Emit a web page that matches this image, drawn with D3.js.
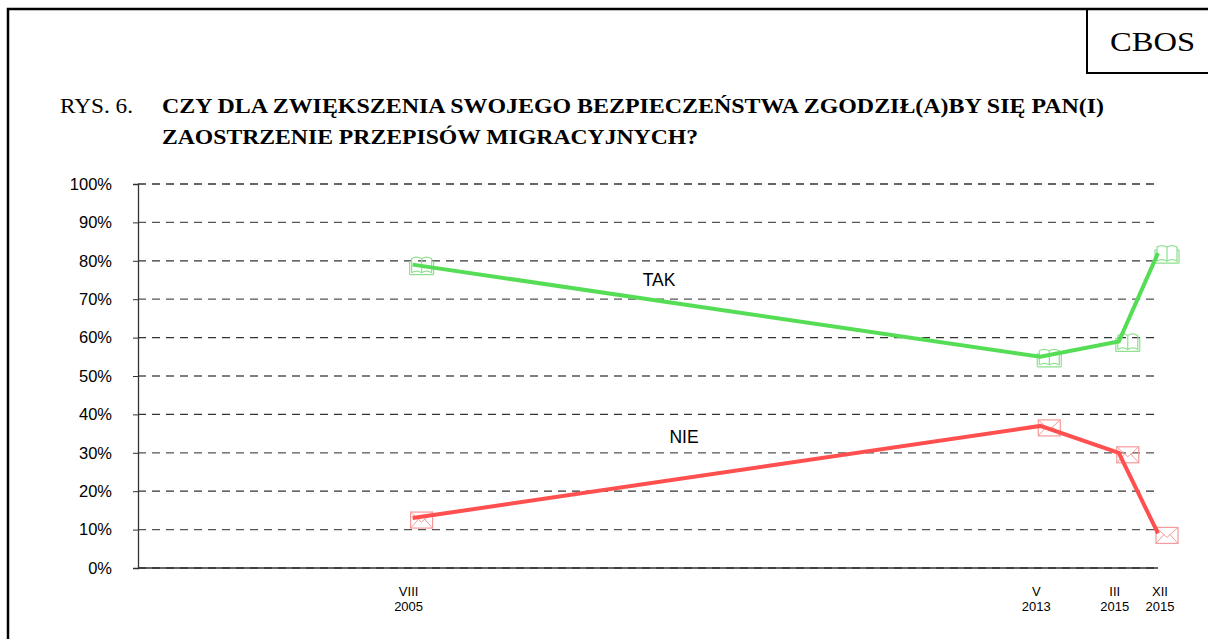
<html>
<head><meta charset="utf-8"></head>
<script src='https://d3js.org/d3.v7.min.js'></script>
<style>
body {margin:0; background:#fff;}
</style>
<body>
<svg width=1208 height=639></svg>
<script>
// survey waves (position on the original category axis) and their labels
var waveIndex = [7, 23, 25, 26];
var waveMonth = ["VIII", "V", "III", "XII"];
var waveYear = ["2005", "2013", "2015", "2015"];
var takValues = [79, 55, 59, 82];
var nieValues = [13, 37, 30, 9];
var yTicks = [0, 10, 20, 30, 40, 50, 60, 70, 80, 90, 100];

var SANS = "'Liberation Sans', Arial, sans-serif";
var SERIF = "'Liberation Serif', 'Times New Roman', Tinos, serif";
var svg = d3.select("svg");

// frame
svg.append("path").attr("d", "M8,639V9H1208").attr("fill", "none").attr("stroke", "#000").attr("stroke-width", 2.5);
svg.append("path").attr("d", "M1087,9V73H1208").attr("fill", "none").attr("stroke", "#000").attr("stroke-width", 2);
svg.append("text").attr("x", 1110).attr("y", 51)
  .attr("textLength", 85).attr("lengthAdjust", "spacingAndGlyphs")
  .style("font-family", SERIF).style("font-size", "27px").text("CBOS");

// title
svg.append("text").attr("x", 60).attr("y", 113).style("font-family", SERIF).style("font-size", "20px")
  .attr("textLength", 73).attr("lengthAdjust", "spacingAndGlyphs").text("RYS. 6.");
svg.append("text").attr("x", 162).attr("y", 113).style("font-family", SERIF).style("font-size", "20.5px").style("font-weight", "bold")
  .attr("textLength", 942).attr("lengthAdjust", "spacingAndGlyphs")
  .text("CZY DLA ZWIĘKSZENIA SWOJEGO BEZPIECZEŃSTWA ZGODZIŁ(A)BY SIĘ PAN(I)");
svg.append("text").attr("x", 162).attr("y", 144).style("font-family", SERIF).style("font-size", "20.5px").style("font-weight", "bold")
  .attr("textLength", 536).attr("lengthAdjust", "spacingAndGlyphs")
  .text("ZAOSTRZENIE PRZEPISÓW MIGRACYJNYCH?");

var x = d3.scaleLinear().domain([0, 26]).range([138, 1158]);
var y = d3.scaleLinear().domain([0, 100]).range([568, 184]);

// gridlines
svg.append("g").selectAll("line").data(yTicks).enter().append("line")
  .attr("x1", x(0)).attr("x2", x(26)).attr("y1", d => y(d)).attr("y2", d => y(d))
  .attr("stroke", d => d % 20 === 0 ? "#333" : "#555").attr("stroke-width", 1.3).attr("stroke-dasharray", "8,6");

// y axis
var yAxis = svg.append("g").attr("transform", "translate(138,0)")
  .call(d3.axisLeft(y).tickValues(yTicks).tickSize(5).tickPadding(21).tickFormat(d => d + "%"));
yAxis.select(".domain").attr("stroke", "#333").attr("stroke-width", 1.3);
yAxis.selectAll(".tick line").attr("stroke", "#333");
yAxis.selectAll("text").style("font-size", "16.5px").style("font-family", SANS).attr("fill", "#000");

// x axis baseline
svg.append("line").attr("x1", x(0)).attr("x2", x(26)).attr("y1", y(0)).attr("y2", y(0)).attr("stroke", "#333").attr("stroke-width", 1.3);

// x labels
var xl = svg.append("g").selectAll("text").data(waveIndex).enter().append("text")
  .attr("text-anchor", "middle").style("font-family", SANS).style("font-size", "13px");
xl.append("tspan").attr("x", (d, i) => x(d) - 4 + (i === 3 ? 6 : 0)).attr("y", 596).text((d, i) => waveMonth[i]);
xl.append("tspan").attr("x", (d, i) => x(d) - 4 + (i === 3 ? 6 : 0)).attr("y", 611).text((d, i) => waveYear[i]);

var line = d3.line().x(d => x(d[0])).y(d => y(d[1]));
var takPts = waveIndex.map((w, i) => [w, takValues[i]]);
var niePts = waveIndex.map((w, i) => [w, nieValues[i]]);

function book(g, cx, cy) {
  var c = "#8fe08f";
  g.append("path").attr("fill", "none").attr("stroke", c).attr("stroke-width", 1.2)
    .attr("d", "M" + (cx - 12) + "," + (cy + 8) + "V" + (cy - 5) + "h2M" + (cx + 12) + "," + (cy + 8) + "V" + (cy - 5) + "h-2" +
      "M" + (cx - 10) + "," + (cy + 6) + "V" + (cy - 8) + "q5,-3 10,0q5,-3 10,0V" + (cy + 6) +
      "q-5,-3 -10,0q-5,-3 -10,0" +
      "M" + cx + "," + (cy - 8) + "V" + (cy + 6) +
      "M" + (cx - 12) + "," + (cy + 8) + "H" + (cx + 12));
}
function envelope(g, cx, cy) {
  var c = "#f59a9a";
  g.append("rect").attr("x", cx - 11).attr("y", cy - 8).attr("width", 22).attr("height", 16)
    .attr("fill", "none").attr("stroke", c).attr("stroke-width", 1.2);
  g.append("path").attr("fill", "none").attr("stroke", c).attr("stroke-width", 1)
    .attr("d", "M" + (cx - 11) + "," + (cy - 8) + "L" + cx + "," + (cy + 2) + "L" + (cx + 11) + "," + (cy - 8) +
      "M" + (cx - 11) + "," + (cy + 8) + "L" + (cx - 3) + "," + (cy - 1) + "M" + (cx + 11) + "," + (cy + 8) + "L" + (cx + 3) + "," + (cy - 1));
}

var mk = svg.append("g");
takPts.forEach(p => book(mk, x(p[0]) + 9, y(p[1]) + 2));
niePts.forEach(p => envelope(mk, x(p[0]) + 9, y(p[1]) + 2));

svg.append("path").datum(takPts).attr("d", line).attr("fill", "none").attr("stroke", "#55dd55").attr("stroke-width", 4);
svg.append("path").datum(niePts).attr("d", line).attr("fill", "none").attr("stroke", "#ff4f4f").attr("stroke-width", 4);

svg.append("text").attr("x", 659).attr("y", 286).attr("text-anchor", "middle").style("font-family", SANS).style("font-size", "17.5px").text("TAK");
svg.append("text").attr("x", 684).attr("y", 443).attr("text-anchor", "middle").style("font-family", SANS).style("font-size", "17.5px").text("NIE");
</script>
</body>
</html>
